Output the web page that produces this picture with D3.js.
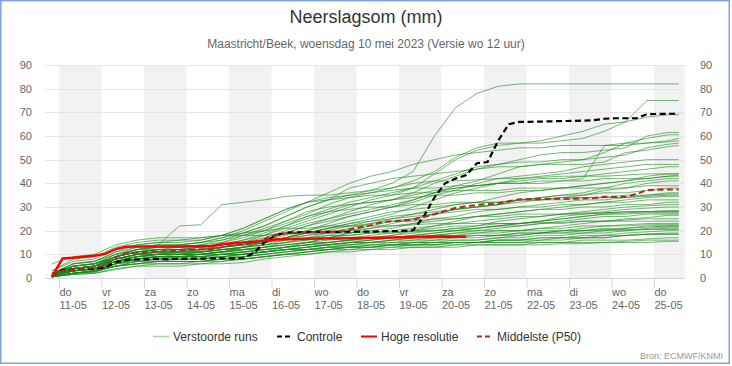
<!DOCTYPE html>
<html><head><meta charset="utf-8">
<script src="https://cdn.jsdelivr.net/npm/d3@7"></script>
<style>
body{margin:0;background:#fff}
svg{display:block}
text{font-family:"Lucida Grande","Lucida Sans Unicode","Liberation Sans",Arial,sans-serif}
</style>
</head><body>
<svg id="c" width="732" height="366"></svg>
<script>
const title = "Neerslagsom (mm)";
const subtitle = "Maastricht/Beek, woensdag 10 mei 2023 (Versie wo 12 uur)";
const source = "Bron: ECMWF/KNMI";
const seriesNames = ["Verstoorde runs", "Controle", "Hoge resolutie", "Middelste (P50)"];
const yTicks = [0, 10, 20, 30, 40, 50, 60, 70, 80, 90];
const dayNames = ["zo", "ma", "di", "wo", "do", "vr", "za"];
const runStart = new Date(2023, 4, 10, 20);

// hours since run start
const hours6 = [0,6,12,18,24,30,36,42,48,54,60,66,72,78,84,90,96,102,108,114,120,126,132,138,144,150,156,162,168,174,180,186,192,198,204,210,216,222,228,234,240,246,252,258,264,270,276,282,288,294,300,306,312,318,324,330,336,342,348,354];
const hours12 = [0,12,24,36,48,60,72,84,96,108,120,132,144,156,168,180,192,204,216,228,240,252,264,276,288,300,312,324,336,348,354];

const controle = [0.6,3.4,3.6,3.8,4.0,4.4,6.7,7.6,7.8,7.9,8.0,8.0,8.1,8.2,8.2,8.3,8.3,8.3,8.4,10.5,15,18,19.1,19.3,19.4,19.5,19.5,19.5,19.6,19.6,19.6,19.7,19.8,19.9,20.2,26,34,40,42,43.5,48.5,49,58,65,66,66,66.1,66.2,66.3,66.4,66.5,66.7,67.3,67.5,67.5,67.5,69.2,69.3,69.4,69.4];
const hogeResolutie = [0.5,8.3,8.6,9.0,9.4,10.2,12.2,13.2,13.3,13.3,13.3,13.3,13.3,13.4,13.4,13.4,14.3,14.8,15.0,15.3,15.8,16.3,16.4,16.5,16.6,16.7,16.7,16.7,16.8,16.9,17.0,17.0,17.1,17.2,17.2,17.3,17.3,17.4,17.4,17.4];
const middelste = [0.6,3.0,3.5,4.0,4.5,5.3,8.8,10.4,10.7,11.0,11.1,11.5,11.8,12.0,12.1,12.2,13.0,13.9,14.3,14.8,16.5,18.1,18.8,19.1,19.3,19.4,19.5,19.6,20.5,21.4,22.3,23.5,24.0,24.3,24.6,25.8,27.0,28.3,29.6,30.3,30.8,31.2,31.5,32.4,33.2,33.3,33.4,33.4,33.5,33.5,33.6,33.8,34.3,34.3,34.3,35.5,37.1,37.3,37.4,37.4];

const members = [
[0.5,4,5,9,12,13,14,15,17,19,22,26,30,33,35,37,40,45,60,72,78,81,82,82,82,82,82,82,82,82,82],
[1,3,4,8,10,11,11,12,14,16,18,22,26,29,32,34,36,38,44,50,54,56,57,57,58,59,62,66,75,75,75],
[2,4,5,9,11,12,12,13,15,18,21,24,27,31,34,36,38,41,45,51,55,57,57,58,60,62,65,66,68,69,69],
[1,3,4,7,9,10,10,11,13,15,17,20,23,25,28,31,33,36,40,43,46,48,50,52,53,53,54,55,60,61.5,61.5],
[0.5,2,3,6,8,9,9,10,11,13,16,19,22,24,26,28,30,33,36,39,41,44,47,48,49,50,53,57,59,60.5,60.5],
[1,3,4,8,10,11,11,12,13,14,16,19,22,25,27,29,31,33,36,38,39,40,40,41,41,42,56,57,57,58,59],
[2,6,7,11,13,14,14,15,17,20,24,28,32,36,40,43,45,48,50,52,53,54,55,55,56,56,56,56,57,57.5,58],
[0.5,4,5,9,11,11,12,12,13,15,18,21,24,27,30,33,35,38,41,44,47,48,49,49,50,50,51,52,55,56.5,57],
[1,5,6,10,12,13,13,14,16,19,22,26,30,33,38,40,42,43,44,45,46,47,47,48,48,48,49,53,54,55.5,56],
[1,3,4,8,10,11,11,12,13,14,15,17,20,23,26,28,30,32,35,37,40,42,43,44,45,47,48,49,50,50,50],
[0.5,2,3,6,8,9,9,10,11,13,15,17,19,21,23,25,27,30,33,36,38,40,42,43,44,45,46,47,48,48,48],
[2,5,6,9,11,12,12,13,14,16,19,22,25,28,31,32,33,35,37,38,39,40,41,42,42,43,44,45,46,47,47],
[1,4,5,9,12,13,13,14,15,17,20,24,28,30,31,32,33,34,35,35,36,36,37,37,38,39,40,41,43,44,44],
[0.5,3,4,7,9,10,10,11,12,13,14,16,18,20,22,24,26,27,29,31,32,34,36,37,38,39,40,41,42,43,43.5],
[1,6,7,11,14,15,15,16,18,21,25,29,32,34,35,36,37,38,38,39,39,40,40,40,41,41,42,42,42,43,43],
[1.5,4,5,8,10,11,11,11,12,13,14,15,16,18,20,22,24,25,27,29,30,31,33,34,35,36,38,40,41,42,42],
[1,3,4,7,9,10,10,10,11,12,13,15,17,19,21,23,25,27,28,29,30,31,32,33,34,35,37,38,40,41,41],
[3,7,8,12,14,15,16,16,18,21,25,29,32,33,34,35,35,36,36,37,37,37,38,38,38,38,38,38,39,39,39],
[0.5,2,3,5,7,8,8,8,9,10,11,13,15,17,19,21,23,25,27,29,30,31,33,34,35,35,36,36,37,38,38],
[1,4,5,9,11,12,12,13,14,15,16,18,20,22,24,26,28,29,30,31,32,32,33,33,34,34,34,35,35,36,36],
[2,5,6,10,13,14,14,15,16,18,20,23,26,28,29,30,30,31,31,32,32,32,33,33,33,34,34,34,35,35.5,35.5],
[1,3,4,7,9,9,10,10,11,12,13,14,15,17,19,20,21,23,25,26,28,29,30,31,32,33,33,34,34.5,35,35],
[0.5,2,3,6,8,9,9,10,10,11,12,13,14,15,16,17,18,20,22,24,26,27,28,29,30,31,32,33,34,34.5,34.5],
[1,4,5,8,10,10,11,11,12,13,15,17,19,21,23,24,25,26,27,28,29,29,30,30,31,31,32,32,33,33,33],
[2,6,7,10,12,12,13,13,14,15,16,17,18,19,20,21,22,23,24,25,26,27,28,29,29,30,30,31,31,32,32],
[1,3,4,7,8,9,9,9,10,11,12,13,14,15,16,17,18,19,20,21,22,24,25,26,27,28,29,30,30.5,31,31],
[0.5,2,3,6,8,8,9,9,9,10,11,12,13,14,15,16,17,18,19,20,21,22,23,24,26,27,28,29,29.5,30,30],
[1,4,5,8,10,11,11,11,12,13,14,15,16,17,18,19,20,21,22,23,24,25,26,26,27,27,27.5,28,28,28.5,28.5],
[1.5,5,6,9,11,12,12,12,13,14,15,17,19,21,22,23,24,24,25,25,26,26,27,27,27,27.5,27.5,28,28,28,28],
[0.5,3,4,6,7,8,8,8,9,10,11,12,13,14,15,16,17,18,19,20,21,22,23,24,25,26,27,27.5,28,28,28],
[2,4,5,8,10,10,11,11,12,12,13,14,15,16,17,18,19,20,21,22,22,23,23,24,25,26,27,27,27.5,27.5,27.5],
[1,3,3.5,6,8,9,9,9,10,10,11,12,13,14,15,15,16,17,18,19,20,21,22,23,24,25,26,26,27,27,27],
[0.5,2,2.5,5,7,7,8,8,8,9,10,11,12,13,14,15,16,17,18,18,19,19,20,21,22,23,24,25,25.5,26.5,26.5],
[1,5,6,9,11,12,12,12,13,14,15,16,17,18,18,19,19,20,20,21,21,22,22,23,23,24,24,24.5,25,25,25],
[3,8,9,13,15,16,16,17,18,19,20,21,21,22,22,22,22,22.5,23,23,23,23,23,23.5,23.5,24,24,24,24,24,24],
[1,3,4,7,9,10,10,10,11,11,12,13,14,15,16,17,17,18,18,19,19,20,20,21,21,22,22,22.5,23,23,23],
[0.5,2,3,5,6,7,7,7,8,8,9,10,11,12,13,13,14,15,15,16,16,17,18,19,20,21,22,22,22.5,22.5,22.5],
[2,4,5,8,10,10,10,11,11,12,12,13,14,14,15,15,16,16,17,17,18,18,19,19,20,20,21,21,22,22,22],
[1,4,5,8,9,10,10,10,11,12,13,14,15,15,16,16,17,17,18,18,18,18,19,19,19,20,20,21,21.5,22,22],
[0.5,2,2.5,5,6,7,7,7,8,9,10,11,12,13,14,14,15,15,16,16,16,17,17,18,18,19,19,20,21,21.5,21.5],
[1,3,4,7,8,9,9,9,10,10,11,12,13,14,14,15,15,16,16,17,17,18,18,19,19,19,20,20,20.5,21,21],
[6,9,10,14,16,17,17,17,18,18,18,19,19,19,19,19.5,19.5,19.5,20,20,20,20,20,20,20,20,20.5,20.5,20.5,20.5,20.5],
[0.5,1.5,2,4,5,6,6,6,7,8,9,10,11,12,12,13,13,14,14,15,15,16,16,17,17,18,18,19,19.5,20,20],
[1,3,4,6,7,8,8,8,9,9,10,11,12,12,13,13,14,14,15,15,15,16,16,16,17,17,17,18,18.5,19,19],
[0.5,2,3,5,6,7,7,7,8,8,9,10,11,12,13,14,14,15,15,15,15,16,16,17,17,17,18,18,18.5,18.5,18.5],
[1,4,5,7,8,9,9,9,10,10,11,12,12,13,13,14,14,14,14,15,15,15,15,16,16,17,17,18,18.5,18.5,18.5],
[2,5,6,8,9,10,10,10,10,11,11,12,12,13,13,13,14,14,14,14,15,15,15,15,15,16,16,16,16.5,17,17],
[0.5,1.5,2,3.5,5,5,5,6,6,6.5,8,9,10,11,12,12,13,13,13,14,14,14,14,15,15,15,15,15.5,16,16,16],
[1,3,3.5,5,6,6,6,7,7,8,9,10,10,11,11,12,12,13,13,13,14,14,14,14,14.5,14.5,15,15,15,15.5,15.5],
[1,4,5,9,12,14,22,22.5,31,32,33,34.5,35,35,36,37,38,40,41,41,41.5,42,42,42.5,43,43,43,43.5,44,44,44]
];

const plotLeft = 45, plotRight = 685, plotTop = 65, plotBottom = 278;
const svg = d3.select("#c");
const toDate = h => new Date(runStart.getTime() + h * 3600e3);
const fontStack = '"Lucida Grande","Lucida Sans Unicode","Liberation Sans",Arial,sans-serif';

const x = d3.scaleTime()
  .domain([new Date(2023, 4, 11), new Date(2023, 4, 25)])
  .range([59, 654]);
const y = d3.scaleLinear().domain([0, 90]).range([plotBottom, plotTop]);

// frame
svg.append("rect").attr("x", 0.75).attr("y", 0.75).attr("width", 728.5).attr("height", 362.5)
  .attr("fill", "#fff").attr("stroke", "#7ea6dc").attr("stroke-width", 1.5);

// day bands
const days = d3.timeDay.range(new Date(2023, 4, 11), new Date(2023, 4, 26));
svg.append("g").selectAll("rect").data(days.filter((d, i) => i % 2 === 0)).join("rect")
  .attr("x", d => x(d))
  .attr("y", plotTop)
  .attr("width", d => Math.min(x(d3.timeDay.offset(d, 1)), plotRight) - x(d))
  .attr("height", plotBottom - plotTop)
  .attr("fill", "#f2f2f2");

// gridlines
svg.append("g").selectAll("line").data(yTicks.filter(v => v > 0)).join("line")
  .attr("x1", plotLeft).attr("x2", plotRight)
  .attr("y1", d => Math.round(y(d)) + 0.5).attr("y2", d => Math.round(y(d)) + 0.5)
  .attr("stroke", "#e6e6e6").attr("stroke-width", 1);

// y axes
const yl = svg.append("g").attr("transform", `translate(${plotLeft},0)`)
  .call(d3.axisLeft(y).tickValues(yTicks).tickSize(0).tickPadding(13));
const yr = svg.append("g").attr("transform", `translate(${plotRight},0)`)
  .call(d3.axisRight(y).tickValues(yTicks).tickSize(0).tickPadding(15));
[yl, yr].forEach(g => {
  g.select(".domain").remove();
  g.selectAll("text").attr("fill", "#666").style("font-size", "11px").style("font-family", fontStack);
});

// x axis
const xa = svg.append("g").attr("transform", `translate(0,${plotBottom})`)
  .call(d3.axisBottom(x).tickValues(days).tickSize(10).tickFormat(""));
xa.select(".domain").attr("d", `M${plotLeft},0.5H${plotRight}`).attr("stroke", "#ccd6eb");
xa.selectAll(".tick line").attr("stroke", "#ccd6eb");
xa.selectAll(".tick").each(function (d) {
  const t = d3.select(this).append("text")
    .attr("fill", "#666").attr("text-anchor", "start")
    .style("font-size", "11px").style("font-family", fontStack);
  t.append("tspan").attr("x", 0).attr("y", 18).text(dayNames[d.getDay()]);
  t.append("tspan").attr("x", 0).attr("y", 31).text(d3.timeFormat("%d-%m")(d));
});

// clip
svg.append("clipPath").attr("id", "clip").append("rect")
  .attr("x", plotLeft).attr("y", plotTop - 10).attr("width", plotRight - plotLeft).attr("height", plotBottom - plotTop + 12);

const plot = svg.append("g").attr("clip-path", "url(#clip)");
const lineFor = hrs => d3.line().x((v, i) => x(toDate(hrs[i]))).y(v => y(v));

plot.append("g").selectAll("path").data(members).join("path")
  .attr("d", d => lineFor(hours12)(d))
  .attr("fill", "none").attr("stroke", "#158a15").attr("stroke-opacity", 0.6).attr("stroke-width", 1);

plot.append("path").attr("d", lineFor(hours6)(controle))
  .attr("fill", "none").attr("stroke", "#000").attr("stroke-width", 2.2).attr("stroke-dasharray", "6,3.5");
plot.append("path").attr("d", lineFor(hours6)(hogeResolutie))
  .attr("fill", "none").attr("stroke", "#ff0000").attr("stroke-width", 2.5);
plot.append("path").attr("d", lineFor(hours6)(middelste))
  .attr("fill", "none").attr("stroke", "#b22a2a").attr("stroke-width", 2.2).attr("stroke-dasharray", "6,3.5");

// titles
svg.append("text").attr("x", 366).attr("y", 23).attr("text-anchor", "middle")
  .style("font-size", "18px").attr("fill", "#333").text(title);
svg.append("text").attr("x", 366).attr("y", 48).attr("text-anchor", "middle")
  .style("font-size", "12px").attr("fill", "#666").text(subtitle);

// legend
const legendItems = [
  {name: seriesNames[0], x: 153, stroke: "#1f961f", op: 0.4, w: 1.5, dash: null},
  {name: seriesNames[1], x: 277, stroke: "#000", op: 1, w: 2, dash: "5,3"},
  {name: seriesNames[2], x: 361, stroke: "#ff0000", op: 1, w: 2, dash: null},
  {name: seriesNames[3], x: 477, stroke: "#b22a2a", op: 1, w: 2, dash: "5,3"}
];
const lg = svg.append("g");
legendItems.forEach(it => {
  lg.append("line").attr("x1", it.x).attr("x2", it.x + 16).attr("y1", 336.5).attr("y2", 336.5)
    .attr("stroke", it.stroke).attr("stroke-opacity", it.op).attr("stroke-width", it.w)
    .attr("stroke-dasharray", it.dash);
  lg.append("text").attr("x", it.x + 20).attr("y", 341)
    .style("font-size", "12px").attr("fill", "#333").text(it.name);
});

svg.append("text").attr("x", 723).attr("y", 359).attr("text-anchor", "end")
  .style("font-size", "9px").attr("fill", "#999").text(source);
</script>
</body></html>
